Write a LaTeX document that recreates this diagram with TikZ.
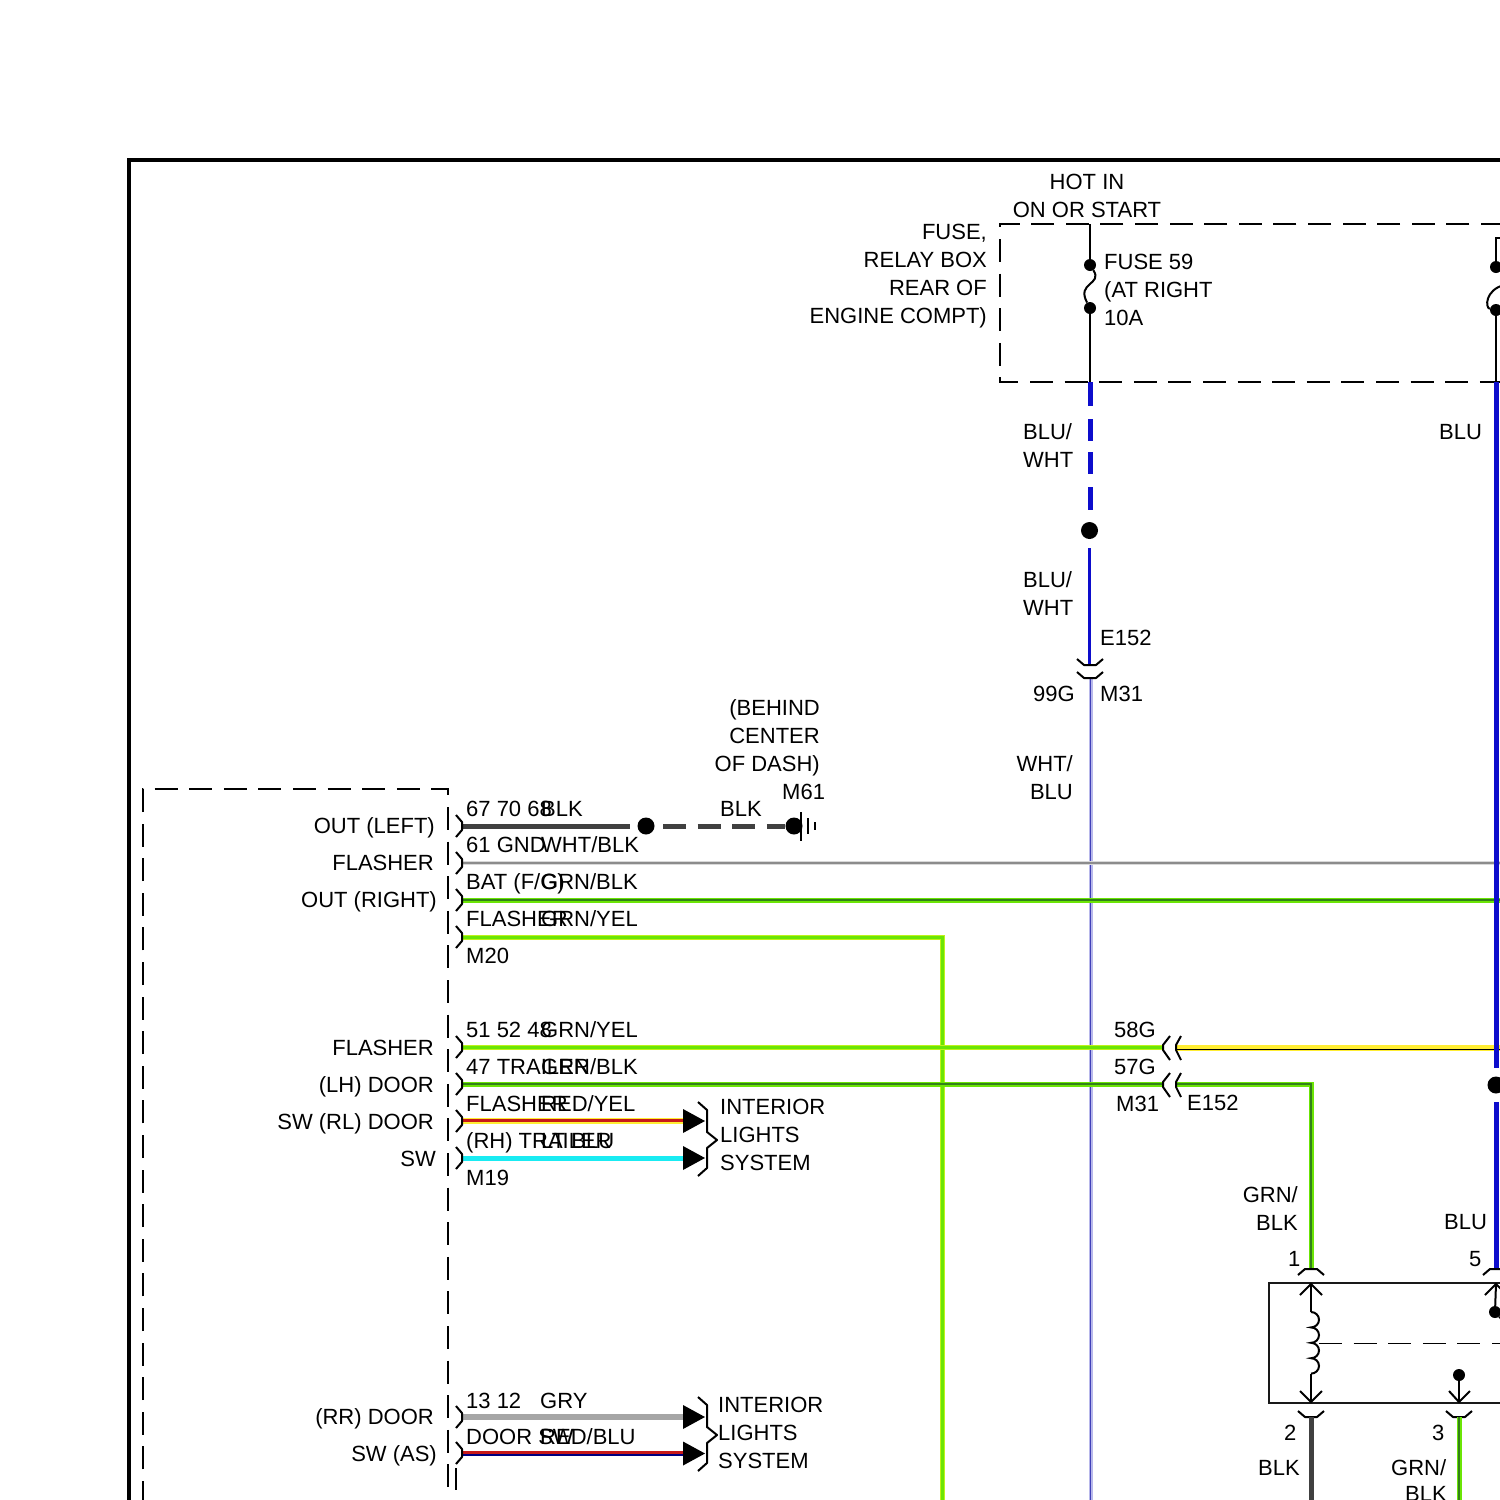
\documentclass[tikz,border=0pt]{standalone}
\usepackage{fontspec}
\setmainfont{Liberation Sans}
\usetikzlibrary{positioning}
\definecolor{wblue}{rgb}{.05,.05,.80}
\definecolor{wgreen}{rgb}{.42,.90,.02}
\definecolor{wlime}{rgb}{.75,.95,.10}
\definecolor{wgrnd}{rgb}{.20,.50,.10}
\definecolor{wdark}{rgb}{.25,.25,.25}
\definecolor{wcyan}{rgb}{.10,.92,.95}
\definecolor{wyel}{rgb}{1,.93,.20}
\definecolor{wred}{rgb}{.78,.10,.10}
\definecolor{wlav}{rgb}{.72,.72,.92}
\definecolor{wnavy}{rgb}{.25,.25,.72}

\begin{document}
\begin{tikzpicture}[x=1pt,y=-1pt,line join=miter,
                    lab/.style={inner sep=0pt,anchor=base west,yshift=1pt,font=\fontsize{22}{28}\selectfont},
                    labr/.style={lab,anchor=base east},
                    blockr/.style={lab,anchor=east,align=right},
                    blockl/.style={lab,anchor=west,align=left},
                    blockc/.style={lab,anchor=center,align=center},
                    thin line/.style={draw=black,line width=2pt},
                    box line/.style={draw=black,line width=2pt,dash pattern=on 23pt off 11.6pt},
                    dot/.style={circle,fill=black,inner sep=0pt,minimum size=#1},
                    dot/.default=12pt,
                    bigdot/.style={dot=17pt},
                    blkwire/.style={draw=wdark,line width=5pt},
                    bluwire/.style={draw=wblue,line width=5pt},
                    whtblu/.style={draw=wlav,line width=4pt,postaction={draw=wnavy,line width=1.2pt}},
                    whtblk/.style={draw=black!15,line width=4.5pt,postaction={draw=black!45,line width=1.4pt}},
                    grnblk/.style={draw=wgreen,line width=5pt,postaction={draw=wgrnd,line width=1.6pt}},
                    grnyel/.style={draw=wlime,line width=5pt,postaction={draw=wgreen,line width=3pt}},
                    yelblk/.style={draw=wyel,line width=6pt,postaction={draw=black,line width=1.3pt,transform canvas={yshift=-2pt}}},
                    redyel/.style={draw=wyel,line width=5.5pt,postaction={draw=wred,line width=3pt,transform canvas={yshift=1pt}}},
                    ltblu/.style={draw=wcyan,line width=5pt},
                    grywire/.style={draw=black!35,line width=5.5pt},
                    redblu/.style={draw=blue!50!black,line width=5pt,postaction={draw=wred,line width=3.2pt,transform canvas={yshift=1pt}}},
                    tip/.style={fill=black,draw=none},
                    bracket/.style={draw=black,line width=2pt,line join=round},
                ]
  \useasboundingbox (0,0) rectangle (1500,1500);
  \clip (0,0) rectangle (1500,1500);

  % frame and dashed boxes
  \coordinate (ftl) at (129,160);
  \draw[draw=black,line width=4pt] (1504,160) -- (ftl) -- (129,1504);
  \draw[box line] (1504,224) -- (1000,224) -- (1000,382) -- (1504,382);
  \draw[box line] (143,1504) -- (143,789) -- (448,789) -- (448,1490);

  % fuses
  \node[dot] (f1a) at (1090,265) {};
  \node[dot] (f1b) at (1090,308) {};
  \node[dot] (f2a) at (1496,267) {};
  \node[dot] (f2b) at (1496,310) {};
  \coordinate (t1) at (1090,224);
  \coordinate (b1) at (1090,382);
  \coordinate (t2) at (1504,238);
  \coordinate (b2) at (1496,382);
  \draw[thin line] (t1) -- (f1a);
  \draw[thin line] (f1b) -- (b1);
  \draw[thin line] (f1a) .. controls (1103,285) and (1076,282) .. (f1b);
  \draw[thin line] (t2) -- (1496,238) -- (f2a);
  \draw[thin line] (f2b) -- (b2);
  \draw[thin line] (1504,285) .. controls (1485,290) and (1485,308) .. (f2b);

  % left wire, top to bottom
  \node[bigdot] (d1) at (1089.5,530.5) {};
  \coordinate (c1a) at (1089.5,665);
  \coordinate (c1b) at (1090.5,678);
  \coordinate (e1) at (1090.5,1504);
  \draw[bluwire] (b1) -- (1090,406);
  \draw[bluwire] (1090,419) -- (1090,441);
  \draw[bluwire] (1090,452) -- (1090,474);
  \draw[bluwire] (1090,487) -- (1090,510);
  \draw[bluwire,line width=3.5pt] (1089.5,548) -- (c1a);
  \draw[whtblu] (c1b) -- (e1);
  \draw[bracket] (1077,659) -- (1084,665) -- (1096,665) -- (1103,659);
  \draw[bracket] (1077,672) -- (1084,678) -- (1096,678) -- (1103,672);

  % ground line
  \coordinate (s1) at (462,826);
  \node[bigdot] (d2) at (646,826) {};
  \node[bigdot] (d3) at (794,826) {};
  \draw[blkwire] (s1) -- (630,826);
  \draw[blkwire,dash pattern=on 23pt off 11.6pt] (663,826) -- (d3);
  \draw[thin line] (801,812) -- (801,841);
  \draw[thin line] (808,818) -- (808,834);
  \draw[thin line] (815,822) -- (815,830);

  % long wires from the flasher unit
  \coordinate (s2) at (462,863);
  \coordinate (s3) at (462,900);
  \coordinate (s4) at (462,937);
  \coordinate (s5) at (462,1047);
  \coordinate (s6) at (462,1084);
  \coordinate (s7) at (462,1121);
  \coordinate (s8) at (462,1158);
  \coordinate (s9) at (462,1417);
  \coordinate (s10) at (462,1453.5);
  \draw[whtblk] (s2) -- (1504,863);
  \draw[grnblk] (s3) -- (1504,900);
  \draw[grnyel] (s4) -- (942,937) -- (942,1504);
  \draw[grnyel] (s5) -- (1164,1047);
  \draw[grnblk] (s6) -- (1164,1084);
  \draw[yelblk] (1177,1047.5) -- (1504,1047.5);
  \draw[grnblk] (1177,1084) -- (1311,1084) -- (1311,1269);

  % wires to interior lights
  \coordinate (i1) at (684,1121);
  \coordinate (i2) at (684,1158);
  \coordinate (i3) at (684,1417);
  \coordinate (i4) at (684,1453.5);
  \draw[redyel] (s7) -- (i1);
  \draw[ltblu] (s8) -- (i2);
  \draw[grywire] (s9) -- (i3);
  \draw[redblu] (s10) -- (i4);
  \foreach \p in {i1,i2,i3,i4} {
    \fill[tip] (\p) ++(-1,-12) -- ++(22,12) -- ++(-22,12) -- cycle;
  }
  \foreach \y in {1102,1397} {
    \draw[bracket] (698,\y) -- ++(9,8) -- ++(0,22) -- ++(10,8) -- ++(-10,8) -- ++(0,20) -- ++(-9,8);
  }

  % connector brackets at the unit
  \foreach \y in {826,863,900,937,1047,1084,1121,1158,1417,1453} {
    \draw[bracket] (456,\y-11) -- (462,\y-4) -- (462,\y+4) -- (456,\y+11);
  }
  \draw[bracket] (456,1468) -- (456,1490);

  % in-line connectors
  \foreach \y in {1047,1084} {
    \draw[bracket] (1170,\y-11) -- (1163,\y-2) -- (1163,\y+3) -- (1170,\y+13);
    \draw[bracket] (1181,\y-11) -- (1176,\y-2) -- (1176,\y+3) -- (1181,\y+13);
  }

  % right blue wire
  \node[bigdot] (d4) at (1496,1085) {};
  \coordinate (b3) at (1496,1269);
  \draw[bluwire] (b2) -- (1496,1068);
  \draw[bluwire] (1496,1102) -- (b3);

  % relay
  \draw[draw=black!90,line width=2pt] (1504,1283) -- (1269,1283) -- (1269,1403) -- (1504,1403);
  \foreach \x in {1311,1496} {
    \draw[bracket] (\x-13,1275) -- (\x-6,1269) -- (\x+6,1269) -- (\x+13,1275);
  }
  \foreach \x in {1311,1459} {
    \draw[bracket] (\x-13,1411) -- (\x-6,1417) -- (\x+6,1417) -- (\x+13,1411);
  }
  \draw[thin line] (1300,1295) -- (1311,1284) -- (1322,1295);
  \draw[thin line] (1311,1284) -- (1311,1312);
  \draw[thin line] (1311,1312) arc (-90:90:8 and 7.7) arc (-90:90:8 and 7.7) arc (-90:90:8 and 7.7) arc (-90:90:8 and 7.7);
  \draw[thin line] (1311,1373.5) -- (1311,1402);
  \draw[thin line] (1300,1391) -- (1311,1402) -- (1322,1391);
  \draw[draw=black,line width=1pt,dash pattern=on 23pt off 11.6pt] (1319,1343.5) -- (1504,1343.5);
  \node[dot] (d5) at (1459,1375) {};
  \draw[thin line] (d5) -- (1459,1402);
  \draw[thin line] (1449,1391) -- (1459,1402) -- (1470,1391);
  \draw[thin line] (1485,1295) -- (1496,1284) -- (1507,1295);
  \node[dot] (d6) at (1495,1312) {};
  \draw[thin line] (1496,1284) -- (d6);
  \draw[thin line] (d6) -- (1504,1322);
  \draw[blkwire] (1311,1417) -- (1311,1504);
  \draw[grnblk] (1459,1417) -- (1459,1504);

  % labels at the top
  \node[blockc] (hot) at (1087,196.5) {HOT IN\\ON OR START};
  \node[blockr] (box) at (987,277) {FUSE,\\RELAY BOX\\REAR OF\\ENGINE COMPT)};
  \node[blockl] (fuse) at (1104,291) {FUSE 59\\(AT RIGHT\\10A};
  \node[blockl] (w1) at (1023,446.5) {BLU/\\WHT};
  \node[lab] (w2) at (1439,440) {BLU};
  \node[blockl] (w3) at (1023,595) {BLU/\\WHT};
  \node[lab] (e1l) at (1100,646) {E152};
  \node[labr] (g99) at (1075,702) {99G};
  \node[lab] (m31a) at (1100,702) {M31};
  \node[blockr] (w4) at (1073,779) {WHT/\\BLU};

  % labels at the ground
  \node[blockr] (dash) at (820,739) {(BEHIND\\CENTER\\OF DASH)};
  \node[lab] (m61) at (782,800) {M61};
  \node[lab] (blk2) at (720,817) {BLK};

  % unit pins, left side
  \node[labr] (p1) at (435,834) {OUT (LEFT)};
  \node[labr] (p2) at (434,871) {FLASHER};
  \node[labr] (p3) at (437,908) {OUT (RIGHT)};
  \node[labr] (p4) at (434,1056) {FLASHER};
  \node[labr] (p5) at (434,1093) {(LH) DOOR};
  \node[labr] (p6) at (434,1130) {SW (RL) DOOR};
  \node[labr] (p7) at (436,1167) {SW};
  \node[labr] (p8) at (434,1425) {(RR) DOOR};
  \node[labr] (p9) at (437,1462) {SW (AS)};

  % pin numbers and wire colours
  \node[lab] (n1) at (466,817) {67 70 68};
  \node[lab] (c1) at (541,817) {BLK};
  \node[lab] (n2) at (466,853) {61 GND};
  \node[lab] (c2) at (541,853) {WHT/BLK};
  \node[lab] (n3) at (466,890) {BAT (F/G)};
  \node[lab] (c3) at (541,890) {GRN/BLK};
  \node[lab] (n4) at (466,927) {FLASHER};
  \node[lab] (c4) at (541,927) {GRN/YEL};
  \node[lab] (m20) at (466,964) {M20};
  \node[lab] (n5) at (466,1038) {51 52 48};
  \node[lab] (c5) at (541,1038) {GRN/YEL};
  \node[lab] (n6) at (466,1075) {47 TRAILER};
  \node[lab] (c6) at (541,1075) {GRN/BLK};
  \node[lab] (n7) at (466,1112) {FLASHER};
  \node[lab] (c7) at (541,1112) {RED/YEL};
  \node[lab] (n8) at (466,1149) {(RH) TRAILER};
  \node[lab] (c8) at (541,1149) {LT BLU};
  \node[lab] (m19) at (466,1186) {M19};
  \node[lab] (n9) at (466,1409) {13 12};
  \node[lab] (c9) at (540,1409) {GRY};
  \node[lab] (n10) at (466,1445) {DOOR SW};
  \node[lab] (c10) at (540,1445) {RED/BLU};

  % interior lights
  \node[blockl] (il1) at (720,1136) {INTERIOR\\LIGHTS\\SYSTEM};
  \node[blockl] (il2) at (718,1434) {INTERIOR\\LIGHTS\\SYSTEM};

  % in-line connector labels
  \node[lab] (g58) at (1114,1038) {58G};
  \node[lab] (g57) at (1114,1075) {57G};
  \node[lab] (m31b) at (1116,1112) {M31};
  \node[lab] (e152) at (1187,1111) {E152};

  % relay labels
  \node[blockr] (w5) at (1298,1209.5) {GRN/\\BLK};
  \node[lab] (w6) at (1444,1230) {BLU};
  \node[lab] (r1) at (1288,1267) {1};
  \node[lab] (r5) at (1469,1267) {5};
  \node[lab] (r2) at (1284,1441) {2};
  \node[lab] (r3) at (1432,1441) {3};
  \node[lab] (w7) at (1258,1476) {BLK};
  \node[lab] (w8) at (1391,1476) {GRN/};
  \node[lab] (w9) at (1405,1502) {BLK};
\end{tikzpicture}
\end{document}
